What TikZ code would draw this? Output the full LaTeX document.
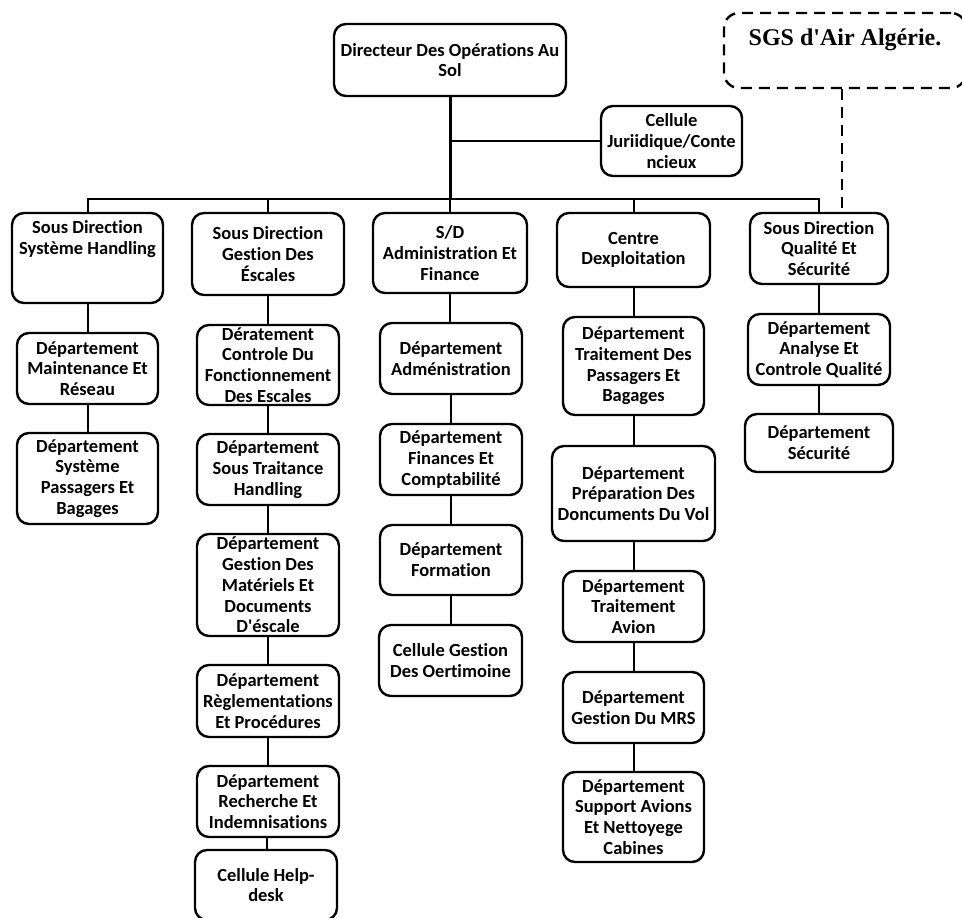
\documentclass[tikz,border=0pt]{standalone}
\usepackage{fontspec}
\setmainfont{Carlito}[Ligatures={NoCommon}]
\newfontfamily\serifbold{Liberation Serif}
\begin{document}
\begin{tikzpicture}[x=1pt,y=-1pt,
  orgbox/.style={draw, line width=2.4pt, rounded corners=12pt, align=center,
    inner sep=0pt, font=\bfseries\fontsize{18.5}{20.7}\selectfont},
  notebox/.style={draw, dashed, dash pattern=on 11pt off 7pt, line width=2.4pt,
    rounded corners=15pt, align=center, inner sep=0pt,
    font=\serifbold\bfseries\fontsize{24}{27}\selectfont},
  link/.style={line width=2pt},
  trunk/.style={line width=3pt},
  dashlink/.style={line width=2.4pt, dash pattern=on 11pt off 7pt}]
\useasboundingbox (0,0) rectangle (962,918);
\clip (0,0) rectangle (962,918);

% top level
\node[orgbox, minimum width=232, minimum height=72] (dir) at (450,60)
  {Directeur Des Opérations Au\\Sol};
\node[orgbox, minimum width=141, minimum height=70] (cel) at (671.5,141)
  {Cellule\\Juriidique/Conte\\ncieux};
\node[notebox, minimum width=242, minimum height=75] (sgs) at (845,50.5)
  {SGS d\textquotesingle Air Algérie.\\\mbox{}};

% sub-directions
\node[orgbox, minimum width=151, minimum height=90] (h1) at (87.5,258)
  {Sous Direction\\Système Handling\\\mbox{}\\\mbox{}};
\node[orgbox, minimum width=152, minimum height=82] (h2) at (268,254)
  {Sous Direction\\Gestion Des\\Éscales};
\node[orgbox, minimum width=154, minimum height=80] (h3) at (450,253)
  {S/D\\Administration Et\\Finance};
\node[orgbox, minimum width=153, minimum height=74] (h4) at (633.5,250)
  {Centre\\Dexploitation};
\node[orgbox, minimum width=138, minimum height=71] (h5) at (819,248.5)
  {Sous Direction\\Qualité Et\\Sécurité};

% column 1
\node[orgbox, minimum width=141, minimum height=71] (a1) at (87.5,368.5)
  {Département\\Maintenance Et\\Réseau};
\node[orgbox, minimum width=141, minimum height=91] (a2) at (87.5,478.5)
  {Département\\Système\\Passagers Et\\Bagages};

% column 2
\node[orgbox, minimum width=142, minimum height=80] (b1) at (268,365)
  {Dératement\\Controle Du\\Fonctionnement\\Des Escales};
\node[orgbox, minimum width=142, minimum height=71] (b2) at (268,469.5)
  {Département\\Sous Traitance\\Handling};
\node[orgbox, minimum width=142, minimum height=102] (b3) at (268,585)
  {Département\\Gestion Des\\Matériels Et\\Documents\\D\textquotesingle éscale};
\node[orgbox, minimum width=142, minimum height=72] (b4) at (268,701)
  {Département\\Règlementations\\Et Procédures};
\node[orgbox, minimum width=142, minimum height=71] (b5) at (268,801.5)
  {Département\\Recherche Et\\Indemnisations};
\node[orgbox, minimum width=142, minimum height=70] (b6) at (266,885)
  {Cellule Help-\\desk};

% column 3
\node[orgbox, minimum width=142, minimum height=71] (c1) at (451,358.5)
  {Département\\Adménistration};
\node[orgbox, minimum width=142, minimum height=71] (c2) at (451,459.5)
  {Département\\Finances Et\\Comptabilité};
\node[orgbox, minimum width=142, minimum height=70] (c3) at (451,560)
  {Département\\Formation};
\node[orgbox, minimum width=143, minimum height=71] (c4) at (450.5,660.5)
  {Cellule Gestion\\Des Oertimoine};

% column 4
\node[orgbox, minimum width=141, minimum height=98] (d1) at (633.5,366)
  {Département\\Traitement Des\\Passagers Et\\Bagages};
\node[orgbox, minimum width=163, minimum height=95] (d2) at (633.5,493.5)
  {Département\\Préparation Des\\Doncuments Du Vol};
\node[orgbox, minimum width=141, minimum height=71] (d3) at (633.5,606.5)
  {Département\\Traitement\\Avion};
\node[orgbox, minimum width=141, minimum height=71] (d4) at (633.5,707.5)
  {Département\\Gestion Du MRS};
\node[orgbox, minimum width=141, minimum height=90] (d5) at (633.5,817)
  {Département\\Support Avions\\Et Nettoyege\\Cabines};

% column 5
\node[orgbox, minimum width=142, minimum height=71] (e1) at (819,349.5)
  {Département\\Analyse Et\\Controle Qualité};
\node[orgbox, minimum width=148, minimum height=58] (e2) at (819,443)
  {Département\\Sécurité};

% connectors
\coordinate (bus) at (0,199);
\draw[trunk] (dir.south) -- (dir.south |- bus);
\draw[link] (dir.south |- bus) -- (h3.north);
\draw[link] (dir.south |- cel.west) -- (cel.west);
\draw[link] (h1.north) |- (bus -| h5.north) -- (h5.north);
\draw[link] (h2.north) -- (h2.north |- bus);
\draw[link] (h4.north) -- (h4.north |- bus);
\draw[dashlink] ([xshift=-3pt]sgs.south) -- ([xshift=-3pt]sgs.south |- h5.north);

\draw[link] (h1.south) -- (a1.north);
\draw[link] (a1.south) -- (a2.north);

\draw[link] (h2.south) -- (b1.north);
\draw[link] (b1.south) -- (b2.north);
\draw[link] (b2.south) -- (b3.north);
\draw[link] (b3.south) -- (b4.north);
\draw[link] (b4.south) -- (b5.north);
\draw[link] ([xshift=1pt]b6.north |- b5.south) -- ([xshift=1pt]b6.north);

\draw[link] (h3.south) -- (h3.south |- c1.north);
\draw[link] (c1.south) -- (c2.north);
\draw[link] (c2.south) -- (c3.north);
\draw[link] (c3.south) -- (c3.south |- c4.north);

\draw[link] (h4.south) -- (d1.north);
\draw[link] (d1.south) -- (d2.north);
\draw[link] (d2.south) -- (d3.north);
\draw[link] (d3.south) -- (d4.north);
\draw[link] (d4.south) -- (d5.north);

\draw[link] (h5.south) -- (e1.north);
\draw[link] (e1.south) -- (e2.north);
\end{tikzpicture}
\end{document}
